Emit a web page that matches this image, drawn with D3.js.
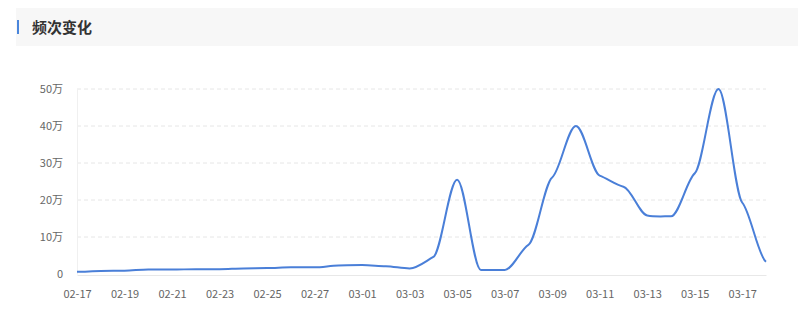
<!DOCTYPE html>
<html>
<head>
<meta charset="utf-8">
<script src="https://cdn.jsdelivr.net/npm/d3@7"></script>
<style>
  body { margin: 0; background: #fff; font-family: "Microsoft YaHei", "Noto Sans CJK SC", sans-serif; }
  .axis text { fill: #666; font-size: 11px; font-family: "Noto Sans CJK SC", sans-serif; }
</style>
</head>
<body>
<div id="chart"></div>
<script>
// dates and frequency values (unit: 万)
var dates = ["02-17", "02-18", "02-19", "02-20", "02-21", "02-22", "02-23", "02-24", "02-25", "02-26",
    "02-27", "02-28", "03-01", "03-02", "03-03", "03-04", "03-05", "03-06", "03-07", "03-08",
    "03-09", "03-10", "03-11", "03-12", "03-13", "03-14", "03-15", "03-16", "03-17", "03-18"];
var values = [0.6, 0.8, 0.9, 1.2, 1.2, 1.3, 1.3, 1.5, 1.6, 1.8,
    1.8, 2.3, 2.4, 2.1, 1.5, 4.6, 25.5, 1.1, 1.1, 7.9,
    26.1, 40, 26.6, 23.6, 15.8, 15.6, 27.2, 50, 19.3, 3.3];
var yTicks = [0, 10, 20, 30, 40, 50];

var W = 798, H = 316;
var margin = { top: 89, right: 32, bottom: 42, left: 77 },
    width = W - margin.left - margin.right,
    height = H - margin.top - margin.bottom;

// soft smoothing: hermite with damped monotone tangents (gives the little shoulders)
function curveSoft(context) {
    var pts;
    return {
        areaStart: function () {},
        areaEnd: function () {},
        lineStart: function () { pts = []; },
        point: function (px, py) { pts.push([+px, +py]); },
        lineEnd: function () {
            var n = pts.length, k = 0.3, m = [];
            if (!n) return;
            for (var i = 0; i < n; i++) {
                var s0 = i > 0 ? (pts[i][1] - pts[i - 1][1]) / (pts[i][0] - pts[i - 1][0]) : null;
                var s1 = i < n - 1 ? (pts[i + 1][1] - pts[i][1]) / (pts[i + 1][0] - pts[i][0]) : null;
                if (s0 === null) m.push(k * s1);
                else if (s1 === null) m.push(k * s0);
                else if (s0 * s1 <= 0) m.push(0);
                else m.push(k * (s0 + s1) / 2);
            }
            context.moveTo(pts[0][0], pts[0][1]);
            for (var j = 0; j < n - 1; j++) {
                var dx = (pts[j + 1][0] - pts[j][0]) / 3;
                context.bezierCurveTo(
                    pts[j][0] + dx, pts[j][1] + m[j] * dx,
                    pts[j + 1][0] - dx, pts[j + 1][1] - m[j + 1] * dx,
                    pts[j + 1][0], pts[j + 1][1]);
            }
        }
    };
}

var root = d3.select("#chart").append("svg")
    .attr("width", W)
    .attr("height", H);

// title bar
root.append("rect")
    .attr("x", 16).attr("y", 8)
    .attr("width", W - 16).attr("height", 38)
    .attr("fill", "#f7f7f7");
root.append("rect")
    .attr("x", 17).attr("y", 20)
    .attr("width", 2).attr("height", 14)
    .attr("fill", "#4a86dc");
root.append("text")
    .attr("x", 32).attr("y", 33)
    .attr("font-size", "15px")
    .attr("font-weight", "bold")
    .attr("fill", "#333")
    .text("频次变化");

var svg = root.append("g")
    .attr("transform", "translate(" + margin.left + "," + margin.top + ")");

var x = d3.scaleLinear()
    .domain([0, dates.length - 1])
    .range([0, width]);

var y = d3.scaleLinear()
    .domain([0, 50])
    .range([height, 0]);

// grid lines
svg.selectAll(".grid")
    .data(yTicks.filter(function (d) { return d > 0; }))
    .enter().append("line")
    .attr("class", "grid")
    .attr("x1", 0).attr("x2", width)
    .attr("y1", function (d) { return y(d); })
    .attr("y2", function (d) { return y(d); })
    .attr("stroke", "#e6e6e6")
    .attr("stroke-dasharray", "4,3");

// y axis
var yAxis = svg.append("g")
    .attr("class", "axis")
    .call(d3.axisLeft(y).tickValues(yTicks).tickSize(0).tickPadding(14)
        .tickFormat(function (d) { return d === 0 ? "0" : d + "万"; }));
yAxis.select(".domain").attr("stroke", "#f0f0f0");

// x axis
var xAxis = svg.append("g")
    .attr("class", "axis")
    .attr("transform", "translate(0," + (height + 1) + ")")
    .call(d3.axisBottom(x)
        .tickValues(d3.range(0, dates.length, 2))
        .tickSize(0).tickPadding(15)
        .tickFormat(function (i) { return dates[i]; }));
xAxis.select(".domain").attr("stroke", "#e8e8e8");

var line = d3.line()
    .x(function (d, i) { return x(i); })
    .y(function (d) { return y(d); })
    .curve(curveSoft);

svg.append("path")
    .datum(values)
    .attr("fill", "none")
    .attr("stroke", "#4a7fd8")
    .attr("stroke-width", 2)
    .attr("d", line);
</script>
</body>
</html>
